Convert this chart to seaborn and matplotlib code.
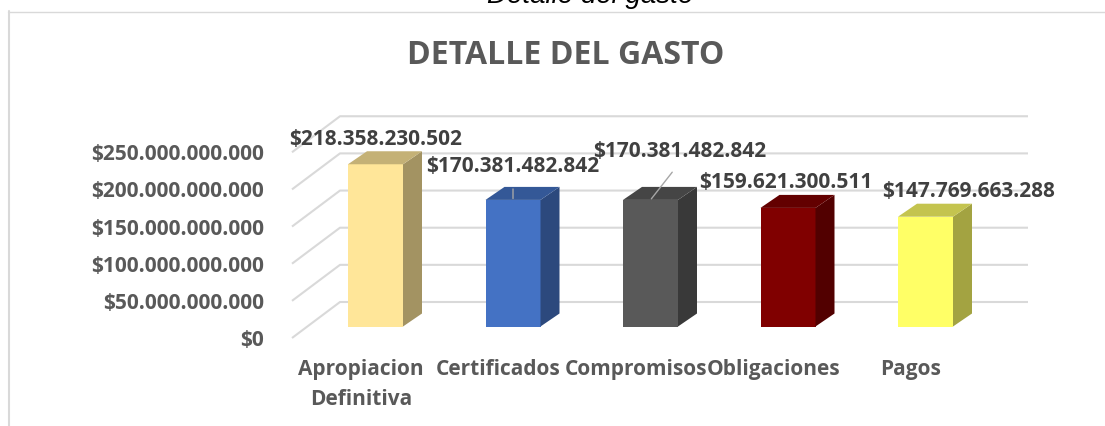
import numpy as np
import pandas as pd
import matplotlib
matplotlib.use('Agg')
import matplotlib.pyplot as plt
import matplotlib.colors as mcolors
from matplotlib.lines import Line2D
import seaborn as sns

# datos del grafico
categorias = ['Apropiacion\nDefinitiva', 'Certificados', 'Compromisos', 'Obligaciones', 'Pagos']
valores = [218358230502, 170381482842, 170381482842, 159621300511, 147769663288]
colores = ['#FFE699', '#4472C4', '#595959', '#800000', '#FFFF66']
ticks_y = [0, 50e9, 100e9, 150e9, 200e9, 250e9]

df = pd.DataFrame({'categoria': categorias, 'valor': np.array(valores) / 1e9})

sns.set_style('white')
plt.rcParams['font.family'] = ['Open Sans', 'DejaVu Sans']

W, H = 1105, 426
fig = plt.figure(figsize=(W / 100, H / 100), dpi=100)

# escala en pixeles (imitando la vista 3D de Excel)
sx, sy = 137.5, 0.743
x0_px, y0_px = 375.5, 326.5
xlim = (-0.75, 4.9)
ylim = (-30, 300)
left_px = x0_px + xlim[0] * sx
right_px = x0_px + xlim[1] * sx
bottom_px = y0_px - ylim[0] * sy
top_px = y0_px - ylim[1] * sy
ax = fig.add_axes([left_px / W, 1 - bottom_px / H,
                   (right_px - left_px) / W, (bottom_px - top_px) / H])

sns.barplot(data=df, x='categoria', y='valor', hue='categoria', palette=colores,
            legend=False, width=0.4, saturation=1, ax=ax, zorder=2)

# profundidad de las barras
dx = 19 / sx
dy = 13 / sy
for p in sorted(ax.patches, key=lambda r: r.get_x()):
    p.set_linewidth(0)
    x, w, h = p.get_x(), p.get_width(), p.get_height()
    c = np.array(mcolors.to_rgb(p.get_facecolor()))
    ax.fill([x + w, x + w + dx, x + w + dx, x + w], [0, dy, h + dy, h],
            color=c * 0.64, lw=0, zorder=2)
    ax.fill([x, x + dx, x + w + dx, x + w], [h, h + dy, h + dy, h],
            color=c * 0.77, lw=0, zorder=2)

# rejilla: suelo + pared del fondo
off_front = -(338 - y0_px) / sy
off_back = (y0_px - 302) / sy
for t in ticks_y:
    v = t / 1e9
    ax.plot([(292 - x0_px) / sx, (340 - x0_px) / sx, (1028 - x0_px) / sx],
            [v + off_front, v + off_back, v + off_back],
            color='#d9d9d9', lw=1.5, zorder=1, solid_capstyle='butt')

# etiquetas de datos
offsets = [(0, 17.5), (0, 23.8), (21.2, 34.6), (-1.4, 18), (31.3, 18)]
lideres = [False, True, True, False, False]
for i, (v, off, lid) in enumerate(zip(valores, offsets, lideres)):
    txt = '$' + f'{v:,}'.replace(',', '.')
    arrow = None
    if lid:
        arrow = dict(arrowstyle='-', color='#a6a6a6', lw=1, relpos=(0.5, 0),
                     shrinkA=6, shrinkB=1)
    ax.annotate(txt, xy=(i, v / 1e9), xytext=off, textcoords='offset points',
                ha='center', va='center', fontsize=15, fontweight='bold',
                color='#404040', arrowprops=arrow, zorder=5)

ax.set_yticks([t / 1e9 + off_front for t in ticks_y],
              labels=['$' + f'{t:,.0f}'.replace(',', '.') for t in ticks_y])
ax.set_xticks(np.arange(len(categorias)) - 14.5 / sx, labels=categorias)
ax.tick_params(axis='y', length=0, pad=6, labelsize=15, labelcolor='#595959')
ax.tick_params(axis='x', length=0, pad=7, labelsize=15, labelcolor='#595959')
for lab in ax.get_xticklabels() + ax.get_yticklabels():
    lab.set_fontweight('bold')
for lab in ax.get_xticklabels():
    lab.set_linespacing(1.6)
ax.set_xlim(xlim)
ax.set_ylim(ylim)
ax.set_xlabel('')
ax.set_ylabel('')
sns.despine(ax=ax, left=True, bottom=True)
ax.set_facecolor('none')

# marco y titulos
fig.add_artist(Line2D([9 / W, 9 / W], [0, 1 - 11 / H], transform=fig.transFigure,
                      color='#d9d9d9', lw=1.5))
fig.add_artist(Line2D([8 / W, 1], [1 - 11.5 / H, 1 - 11.5 / H], transform=fig.transFigure,
                      color='#d9d9d9', lw=1))
fig.text(566 / W, 1 - 56 / H, 'DETALLE DEL GASTO', ha='center', va='center',
         fontsize=23, fontweight='bold', color='#595959')
fig.text(590 / W, 1 - 3 / H, 'Detalle del gasto', ha='center', va='baseline',
         fontsize=20, style='italic', color='black', family=['Liberation Sans', 'DejaVu Sans'])

fig.savefig('out.png', dpi=100, facecolor='white')
